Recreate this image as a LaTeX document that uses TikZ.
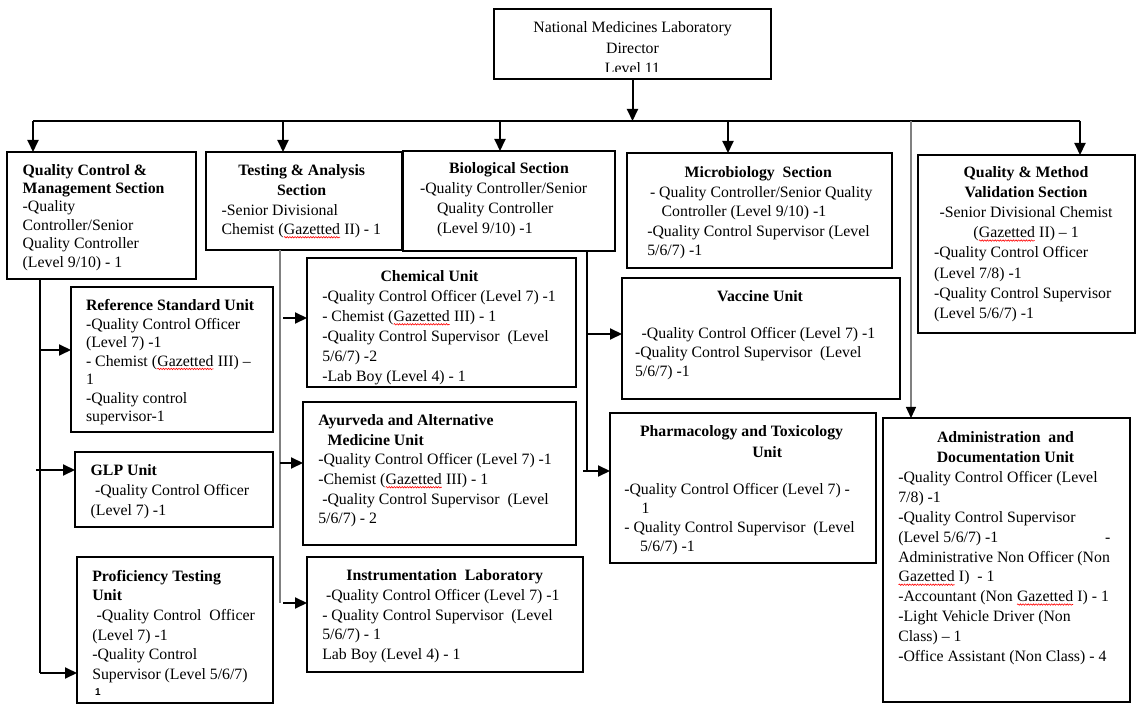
\documentclass[tikz,border=0pt]{standalone}
\usepackage{fontspec}
\setmainfont{Liberation Serif}
\setsansfont{Liberation Sans}
\usetikzlibrary{arrows.meta,decorations.pathmorphing}
\newcommand{\fsz}[1]{\fontsize{15.8}{#1}\selectfont}
\newcommand{\gz}{\tikz[baseline=(gzw.base)]{\node[inner sep=0pt,outer sep=0pt,anchor=base west,align=left] (gzw) at (0,0) {Gazetted};\draw[red,line width=0.6pt,decorate,decoration={snake,amplitude=0.7pt,segment length=2.6pt}] ([yshift=-2.8pt]gzw.base west) -- ([yshift=-2.8pt]gzw.base east);}}
\newcommand{\mkbox}[5]{\node[box,minimum width=#4-#2,minimum height=#5-#3] (#1) at (#2,#3) {};}
\tikzset{
 box/.style={draw=black,line width=2.8pt,rectangle,inner sep=0pt,outer sep=0pt,anchor=north west},
 txt/.style={inner sep=0pt,outer sep=0pt,align=left,anchor=north west},
 ctr/.style={inner sep=0pt,outer sep=0pt,align=center,anchor=north},
 conn/.style={line width=2pt,black},
 arr/.style={conn,-{Triangle[length=12pt,width=11pt]}},
 greyline/.style={line width=1.2pt,black!50},
}
\begin{document}
\begin{tikzpicture}[x=1pt,y=-1pt]
\fill[white] (0,0) rectangle (1144,711);
\useasboundingbox (0,0) rectangle (1144,711);
% boxes
\mkbox{dir}{494}{9}{771}{79}
\mkbox{qcm}{7}{152}{196}{279}
\mkbox{ta}{206}{152}{402}{250}
\mkbox{bio}{403}{151}{615}{251}
\mkbox{micro}{627}{153}{892}{268}
\mkbox{qmv}{918}{155}{1135}{333}
\mkbox{ref}{71}{287}{273}{432}
\mkbox{glp}{75}{452}{273}{527}
\mkbox{prof}{77}{557}{273}{703}
\mkbox{chem}{307}{258}{576}{387}
\mkbox{ayu}{303}{402}{576}{545}
\mkbox{ins}{307}{557}{583}{672}
\mkbox{vac}{622}{278}{900}{399}
\mkbox{pha}{610}{413}{876}{563}
\mkbox{adm}{883}{418}{1130}{702}
% texts
\begin{scope}
\clip (494,9) rectangle (771,71.5);
\node[ctr,font=\fsz{20.5}] (dirT) at (632.5,22) {National Medicines Laboratory\\Director\\Level 11};
\end{scope}
\node[txt,font=\fsz{18.4}] (qcmT) at (22.7,164.2) {\textbf{Quality Control \&}\\\textbf{Management Section}\\-Quality\\Controller/Senior\\Quality Controller\\(Level 9/10) - 1};
\node[ctr,font=\fsz{20.3}\bfseries] (taH) at (301.7,164.2) {Testing \& Analysis\\Section};
\node[txt,font=\fsz{19}] (taT) at (221.7,204.5) {-Senior Divisional\\Chemist (\gz{} II) - 1};
\node[ctr,font=\fsz{19.7}\bfseries] (bioH) at (509,162.5) {Biological Section};
\node[txt,font=\fsz{19.7}] (bioT) at (420,183) {-Quality Controller/Senior\\\hspace*{17pt}Quality Controller\\\hspace*{17pt}(Level 9/10) -1};
\node[ctr,font=\fsz{19.7}\bfseries] (microH) at (758.3,166.5) {Microbiology\ \ Section};
\node[txt,font=\fsz{19.4}] (microT) at (647.3,186.5) {\hspace*{2.7pt}- Quality Controller/Senior Quality\\\hspace*{14.4pt}Controller (Level 9/10) -1\\-Quality Control Supervisor (Level\\5/6/7) -1};
\node[ctr,font=\fsz{20}] (qmvH) at (1026,166.8) {\textbf{Quality \& Method}\\\textbf{Validation Section}\\-Senior Divisional Chemist\\(\gz{} II) – 1};
\node[txt,font=\fsz{20.2}] (qmvT) at (934,246.8) {-Quality Control Officer\\(Level 7/8) -1\\-Quality Control Supervisor\\(Level 5/6/7) -1};
\node[txt,font=\fsz{18.5}] (refT) at (86,299.5) {\textbf{Reference Standard Unit}\\-Quality Control Officer\\(Level 7) -1\\- Chemist (\gz{} III) –\\1\\-Quality control\\supervisor-1};
\node[txt,font=\fsz{20}] (glpT) at (90.7,464.5) {\textbf{GLP Unit}\\\hspace*{4.3pt}-Quality Control Officer\\(Level 7) -1};
\node[txt,font=\fsz{19.6}] (profT) at (92.3,570.2) {\textbf{Proficiency Testing}\\\textbf{Unit}\\\hspace*{4.4pt}-Quality Control\ \ Officer\\(Level 7) -1\\-Quality Control\\Supervisor (Level 5/6/7)\\\hspace*{2.7pt}\raisebox{3pt}{\sffamily\bfseries\fontsize{10}{11}\selectfont 1}};
\node[ctr,font=\fsz{19.7}\bfseries] (chemH) at (429.5,270.2) {Chemical Unit};
\begin{scope}
\clip (307,258) rectangle (576,385);
\node[txt,font=\fsz{19.9}] (chemT) at (322.3,290.5) {-Quality Control Officer (Level 7) -1\\- Chemist (\gz{} III) - 1\\-Quality Control Supervisor\ \ (Level\\5/6/7) -2\\-Lab Boy (Level 4) - 1};
\end{scope}
\node[txt,font=\fsz{19.66}] (ayuT) at (318.3,414.5) {\textbf{Ayurveda and Alternative}\\\hspace*{9.4pt}\textbf{Medicine Unit}\\-Quality Control Officer (Level 7) -1\\-Chemist (\gz{} III) - 1\\\hspace*{4pt}-Quality Control Supervisor\ \ (Level\\5/6/7) - 2};
\node[ctr,font=\fsz{19.7}\bfseries] (insH) at (444.7,569.5) {Instrumentation\ \ Laboratory};
\node[txt,font=\fsz{19.8}] (insT) at (322.3,589.2) {\hspace*{3.7pt}-Quality Control Officer (Level 7) -1\\- Quality Control Supervisor\ \ (Level\\5/6/7) - 1\\Lab Boy (Level 4) - 1};
\node[ctr,font=\fsz{19.7}\bfseries] (vacH) at (760,290.2) {Vaccine Unit};
\node[txt,font=\fsz{18.7}] (vacT) at (635,327.8) {\hspace*{6.7pt}-Quality Control Officer (Level 7) -1\\-Quality Control Supervisor\ \ (Level\\5/6/7) -1};
\node[txt,font=\fsz{21}\bfseries] (phaH) at (640,425.2) {Pharmacology and Toxicology\\\hspace*{112.3pt}Unit};
\node[txt,font=\fsz{19.1}] (phaT) at (624.3,483.5) {-Quality Control Officer (Level 7) -\\\hspace*{17.4pt}1\\- Quality Control Supervisor\ \ (Level\\\hspace*{15.7pt}5/6/7) -1};
\node[ctr,font=\fsz{20}\bfseries] (admH) at (1005.5,431.8) {Administration\ \ and\\Documentation Unit};
\node[txt,font=\fsz{19.8}] (admT) at (898.3,471.8) {-Quality Control Officer (Level\\7/8) -1\\-Quality Control Supervisor\\\rlap{\hspace*{206.7pt}-}(Level 5/6/7) -1\\Administrative Non Officer (Non\\\gz{} I)\ \ - 1\\-Accountant (Non \gz{} I) - 1\\-Light Vehicle Driver (Non\\Class) – 1\\-Office Assistant (Non Class) - 4};
% connectors
\coordinate (busL) at (33,121);
\coordinate (busR) at (1080,121);
\coordinate (dq) at (33,121);
\coordinate (dt) at (283,121);
\coordinate (db) at (500,121);
\coordinate (dm) at (728,121);
\coordinate (dv) at (1080,121);
\coordinate (da) at (911,121);
\draw[conn] (busL) -- (busR);
\draw[arr] (dir.south) -- (dir.south |- busL);
\draw[arr] (dq) -- (dq |- qcm.north);
\draw[arr] (dt) -- (dt |- ta.north);
\draw[arr] (db) -- (db |- bio.north);
\draw[arr] (dm) -- (dm |- micro.north);
\draw[arr] (dv) -- (dv |- qmv.north);
\draw[greyline,-{Triangle[length=11pt,width=10pt,black]}] (da) -- (da |- adm.north);
% QCM branch
\coordinate (aref) at (40,350);
\coordinate (aglp) at (36,470);
\coordinate (aprof) at (40,673);
\draw[line width=1.3pt] (qcm.south -| aref) -- (aprof);
\draw[arr] (aref) -- (aref -| ref.west);
\draw[arr] (aglp) -- (aglp -| glp.west);
\draw[arr] (aprof) -- (aprof -| prof.west);
% TA branch
\coordinate (achem) at (283,318);
\coordinate (aayu) at (280,463);
\coordinate (ains) at (283,603);
\draw[greyline] (ta.south -| aayu) -- (aayu |- ains);
\draw[arr] (achem) -- (achem -| chem.west);
\draw[arr] (aayu) -- (aayu -| ayu.west);
\draw[arr] (ains) -- (ains -| ins.west);
% Bio branch
\coordinate (avac) at (587,334);
\coordinate (apha) at (583,471);
\draw[conn] (bio.south -| avac) -- (avac |- apha);
\draw[arr] (avac) -- (avac -| vac.west);
\draw[arr] (apha) -- (apha -| pha.west);
\end{tikzpicture}
\end{document}
